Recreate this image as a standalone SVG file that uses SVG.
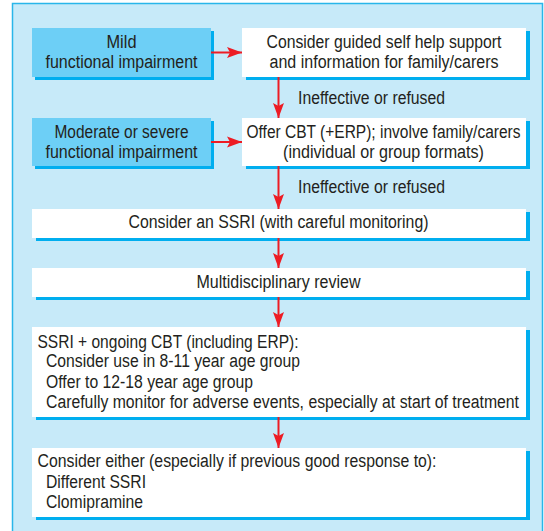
<svg xmlns="http://www.w3.org/2000/svg" width="544" height="531" viewBox="0 0 544 531">
<style>
text{font-family:"Liberation Sans Narrow","Liberation Sans",Arial,sans-serif;font-size:18px;fill:#231f20}
.c{text-anchor:middle}
.shadow{fill:#00aeef}
.blue{fill:#6dcff6}
.white{fill:#ffffff}
.conn{stroke:#ed1c24;stroke-width:2;fill:none}
</style>
<defs>
<marker id="ah" markerUnits="userSpaceOnUse" markerWidth="16" markerHeight="12" refX="15" refY="6" orient="auto">
<path d="M0,0.5 L15,6 L0,11.5 L3,6 Z" fill="#ed1c24"/>
</marker>
</defs>
<rect x="12.5" y="3.5" width="530" height="540" fill="#c7eaf9" stroke="#29b6ea" stroke-width="1.5"/>

<g id="mild">
<rect class="shadow" x="35" y="31" width="179" height="49"/>
<rect class="blue" x="32" y="28" width="179" height="49"/>
<text class="c" x="121.5" y="48" textLength="30" lengthAdjust="spacingAndGlyphs">Mild</text>
<text class="c" x="121.5" y="68" textLength="152" lengthAdjust="spacingAndGlyphs">functional impairment</text>
</g>
<g id="moderate">
<rect class="shadow" x="35" y="121" width="179" height="48"/>
<rect class="blue" x="32" y="118" width="179" height="48"/>
<text class="c" x="121.5" y="138" textLength="134" lengthAdjust="spacingAndGlyphs">Moderate or severe</text>
<text class="c" x="121.5" y="157.5" textLength="152" lengthAdjust="spacingAndGlyphs">functional impairment</text>
</g>
<g id="guided">
<rect class="shadow" x="246" y="31" width="284" height="49"/>
<rect class="white" x="242" y="28" width="284" height="49"/>
<text class="c" x="384" y="48" textLength="235" lengthAdjust="spacingAndGlyphs">Consider guided self help support</text>
<text class="c" x="384" y="68" textLength="229" lengthAdjust="spacingAndGlyphs">and information for family/carers</text>
</g>
<g id="cbt">
<rect class="shadow" x="246" y="121" width="284" height="48"/>
<rect class="white" x="242" y="118" width="284" height="48"/>
<text class="c" x="383.5" y="138" textLength="274" lengthAdjust="spacingAndGlyphs">Offer CBT (+ERP); involve family/carers</text>
<text class="c" x="383.5" y="157.5" textLength="201" lengthAdjust="spacingAndGlyphs">(individual or group formats)</text>
</g>
<g id="ssri">
<rect class="shadow" x="36" y="212" width="494" height="29"/>
<rect class="white" x="32" y="209" width="494" height="29"/>
<text class="c" x="278.5" y="227.5" textLength="300" lengthAdjust="spacingAndGlyphs">Consider an SSRI (with careful monitoring)</text>
</g>
<g id="review">
<rect class="shadow" x="36" y="271" width="494" height="29"/>
<rect class="white" x="32" y="268" width="494" height="29"/>
<text class="c" x="278.5" y="287.5" textLength="164" lengthAdjust="spacingAndGlyphs">Multidisciplinary review</text>
</g>
<g id="ssricbt">
<rect class="shadow" x="36" y="330" width="494" height="90"/>
<rect class="white" x="32" y="327" width="494" height="90"/>
<text x="37.5" y="347.5" textLength="261" lengthAdjust="spacingAndGlyphs">SSRI + ongoing CBT (including ERP):</text>
<text x="46" y="367" textLength="254" lengthAdjust="spacingAndGlyphs">Consider use in 8-11 year age group</text>
<text x="46" y="387.5" textLength="207" lengthAdjust="spacingAndGlyphs">Offer to 12-18 year age group</text>
<text x="46" y="407.5" textLength="473" lengthAdjust="spacingAndGlyphs">Carefully monitor for adverse events, especially at start of treatment</text>
</g>
<g id="either">
<rect class="shadow" x="36" y="451" width="494" height="69"/>
<rect class="white" x="32" y="448" width="494" height="69"/>
<text x="37.5" y="467" textLength="399" lengthAdjust="spacingAndGlyphs">Consider either (especially if previous good response to):</text>
<text x="46" y="487.5" textLength="100" lengthAdjust="spacingAndGlyphs">Different SSRI</text>
<text x="46" y="507.5" textLength="97" lengthAdjust="spacingAndGlyphs">Clomipramine</text>
</g>

<g id="connectors">
<line class="conn" x1="211" y1="52.5" x2="242" y2="52.5" marker-end="url(#ah)"/>
<line class="conn" x1="211" y1="142" x2="242" y2="142" marker-end="url(#ah)"/>
<line class="conn" x1="278.5" y1="77" x2="278.5" y2="118" marker-end="url(#ah)"/>
<line class="conn" x1="278.5" y1="166" x2="278.5" y2="209" marker-end="url(#ah)"/>
<line class="conn" x1="278.5" y1="238" x2="278.5" y2="268" marker-end="url(#ah)"/>
<line class="conn" x1="278.5" y1="297" x2="278.5" y2="327" marker-end="url(#ah)"/>
<line class="conn" x1="278.5" y1="417" x2="278.5" y2="448" marker-end="url(#ah)"/>
<text x="298" y="103.5" textLength="147" lengthAdjust="spacingAndGlyphs">Ineffective or refused</text>
<text x="298" y="193" textLength="147" lengthAdjust="spacingAndGlyphs">Ineffective or refused</text>
</g>
</svg>
